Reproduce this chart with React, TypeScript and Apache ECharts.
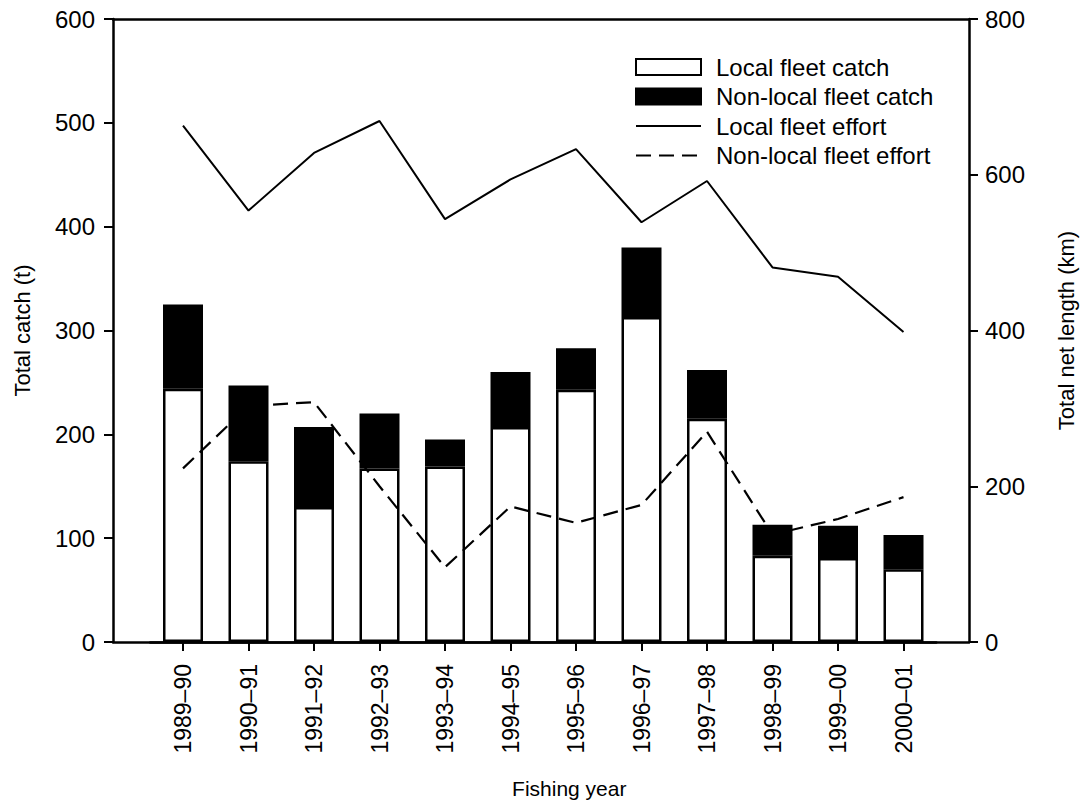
import React, { useEffect, useRef } from "react";
import * as echarts from "echarts";

const categories = ["1989–90", "1990–91", "1991–92", "1992–93", "1993–94", "1994–95", "1995–96", "1996–97", "1997–98", "1998–99", "1999–00", "2000–01"];
const localCatch = [244, 174, 130, 167, 169, 207, 243, 313, 215, 83, 81, 70];
const nonLocalCatch = [81, 73, 77, 53, 26, 53, 40, 67, 47, 30, 31, 33];
const localEffort = [663, 554, 628, 669, 543, 594, 633, 539, 592, 481, 469, 398];
const nonLocalEffort = [223, 303, 308, 200, 96, 174, 153, 176, 270, 138, 158, 186];

const FONT = "'Liberation Sans', Arial, sans-serif";

export default function App() {
  const ref = useRef<HTMLDivElement>(null);
  useEffect(() => {
    if (!ref.current) return;
    const chart = echarts.init(ref.current, null, { renderer: "svg" });
    const axisLine = { show: true, lineStyle: { color: "#000", width: 2.5 } };
    const tick = { show: true, length: 9, lineStyle: { color: "#000", width: 2 } };
    const labelStyle = { color: "#000", fontSize: 24, fontFamily: FONT };
    const hiddenSymbol = { color: "rgba(0,0,0,0)", borderColor: "rgba(0,0,0,0)", borderWidth: 0 };
    chart.setOption({
      animation: false,
      backgroundColor: "#fff",
      textStyle: { fontFamily: FONT, color: "#000" },
      grid: [
        { left: 150.25, right: 1086 - 936.25, top: 19, bottom: 806 - 642 },
        { left: 113, right: 1086 - 969, top: 19, bottom: 806 - 642 },
      ],
      legend: {
        orient: "vertical",
        left: 630,
        top: 50,
        itemWidth: 65,
        itemHeight: 16,
        itemGap: 5.5,
        textStyle: { fontSize: 24, fontFamily: FONT, color: "#000", padding: [0, 0, 0, 10] },
        data: [
          { name: "Local fleet catch", icon: "rect" },
          { name: "Non-local fleet catch", icon: "rect" },
          { name: "Local fleet effort", itemStyle: hiddenSymbol },
          { name: "Non-local fleet effort", itemStyle: hiddenSymbol },
        ],
      },
      xAxis: [
        {
          type: "category",
          gridIndex: 0,
          data: categories,
          boundaryGap: true,
          axisLine,
          axisTick: { ...tick, alignWithLabel: true },
          axisLabel: { color: "#000", fontSize: 23, fontFamily: FONT, rotate: 90, margin: 22 },
          name: "Fishing year",
          nameLocation: "middle",
          nameGap: 136,
          nameTextStyle: { fontSize: 21, fontFamily: FONT, color: "#000", padding: [0, 0, 0, 52] },
        },
        {
          type: "value",
          gridIndex: 1,
          position: "bottom",
          min: 0,
          max: 1,
          axisLine: { ...axisLine, onZero: false },
          axisTick: { show: false },
          axisLabel: { show: false },
          splitLine: { show: false },
        },
        {
          type: "value",
          gridIndex: 1,
          position: "top",
          min: 0,
          max: 1,
          axisLine: { ...axisLine, onZero: false },
          axisTick: { show: false },
          axisLabel: { show: false },
          splitLine: { show: false },
        },
      ],
      yAxis: [
        {
          type: "value",
          gridIndex: 0,
          position: "left",
          offset: 37.25,
          min: 0,
          max: 600,
          interval: 100,
          axisLine,
          axisTick: tick,
          axisLabel: { ...labelStyle, margin: 18 },
          splitLine: { show: false },
          name: "Total catch (t)",
          nameLocation: "middle",
          nameRotate: 90,
          nameGap: 80,
          nameTextStyle: { fontSize: 22, fontFamily: FONT, color: "#000" },
        },
        {
          type: "value",
          gridIndex: 0,
          position: "right",
          offset: 32.75,
          min: 0,
          max: 800,
          interval: 200,
          axisLine,
          axisTick: tick,
          axisLabel: { ...labelStyle, margin: 16 },
          splitLine: { show: false },
          name: "Total net length (km)",
          nameLocation: "middle",
          nameRotate: 90,
          nameGap: 86,
          nameTextStyle: { fontSize: 22, fontFamily: FONT, color: "#000" },
        },
        {
          type: "value",
          gridIndex: 1,
          show: false,
          min: 0,
          max: 1,
        },
      ],
      series: [
        {
          name: "Local fleet catch",
          type: "bar",
          stack: "catch",
          xAxisIndex: 0,
          yAxisIndex: 0,
          barWidth: 40,
          data: localCatch,
          itemStyle: { color: "#fff", borderColor: "#000", borderWidth: 2.5 },
        },
        {
          name: "Non-local fleet catch",
          type: "bar",
          stack: "catch",
          xAxisIndex: 0,
          yAxisIndex: 0,
          barWidth: 40,
          data: nonLocalCatch,
          itemStyle: { color: "#000", borderColor: "#000", borderWidth: 2.5 },
        },
        {
          name: "Local fleet effort",
          type: "line",
          xAxisIndex: 0,
          yAxisIndex: 1,
          symbol: "none",
          data: localEffort,
          lineStyle: { color: "#000", width: 2 },
          itemStyle: { color: "#000" },
        },
        {
          name: "Non-local fleet effort",
          type: "line",
          xAxisIndex: 0,
          yAxisIndex: 1,
          symbol: "none",
          data: nonLocalEffort,
          lineStyle: { color: "#000", width: 2.2, type: [15, 8] },
          itemStyle: { color: "#000" },
        },
      ],
    });
    return () => chart.dispose();
  }, []);
  return <div ref={ref} style={{ width: 1086, height: 806, position: "absolute", left: 0, top: 0 }} />;
}
